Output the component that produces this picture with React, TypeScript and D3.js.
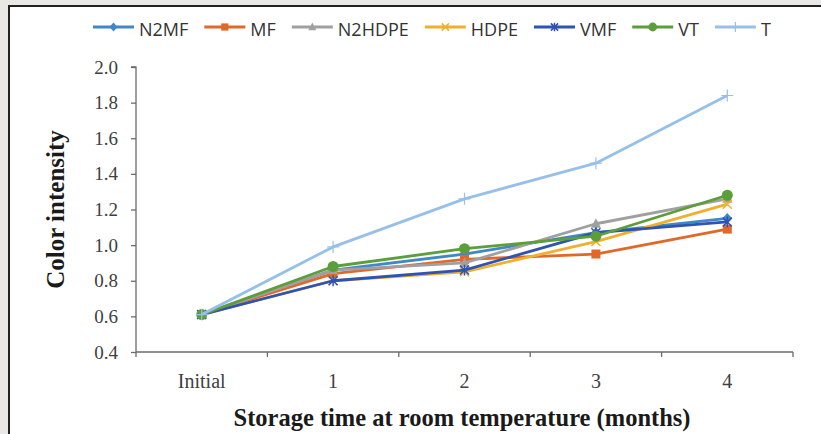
import React, { useEffect, useRef } from "react";
import * as d3 from "d3";

const categories = ["Initial", "1", "2", "3", "4"];
const seriesNames = ["N2MF", "MF", "N2HDPE", "HDPE", "VMF", "VT", "T"];
const n2mf = [0.61, 0.86, 0.95, 1.07, 1.15];
const mf = [0.61, 0.84, 0.92, 0.95, 1.09];
const n2hdpe = [0.61, 0.86, 0.9, 1.12, 1.26];
const hdpe = [0.61, 0.8, 0.85, 1.02, 1.23];
const vmf = [0.61, 0.8, 0.86, 1.07, 1.13];
const vt = [0.61, 0.88, 0.98, 1.05, 1.28];
const t = [0.61, 0.99, 1.26, 1.46, 1.84];
const yTicks = [0.4, 0.6, 0.8, 1.0, 1.2, 1.4, 1.6, 1.8, 2.0];

const seriesValues = [n2mf, mf, n2hdpe, hdpe, vmf, vt, t];
const colors = ["#3f87c9", "#e0692a", "#a0a0a0", "#f0b02e", "#2f53b3", "#5c9e3a", "#96c0ea"];
const markers = ["diamond", "square", "triangle", "x", "asterisk", "circle", "plus"];

const W = 821;
const H = 434;

function drawMarker(g: any, type: string, cx: number, cy: number, color: string, s: number) {
  if (type === "diamond") {
    g.append("path").attr("d", `M${cx},${cy - s * 0.55}L${cx + s * 0.5},${cy}L${cx},${cy + s * 0.55}L${cx - s * 0.5},${cy}Z`).attr("fill", color);
  } else if (type === "square") {
    g.append("rect").attr("x", cx - s * 0.45).attr("y", cy - s * 0.45).attr("width", s * 0.9).attr("height", s * 0.9).attr("fill", color);
  } else if (type === "triangle") {
    g.append("path").attr("d", `M${cx},${cy - s * 0.55}L${cx + s * 0.5},${cy + s * 0.4}L${cx - s * 0.5},${cy + s * 0.4}Z`).attr("fill", color);
  } else if (type === "circle") {
    g.append("circle").attr("cx", cx).attr("cy", cy).attr("r", s * 0.55).attr("fill", color);
  } else if (type === "x") {
    const r = s * 0.45;
    g.append("path").attr("d", `M${cx - r},${cy - r}L${cx + r},${cy + r}M${cx - r},${cy + r}L${cx + r},${cy - r}`).attr("stroke", color).attr("stroke-width", 1.5).attr("fill", "none");
  } else if (type === "asterisk") {
    const r = s * 0.45;
    g.append("path").attr("d", `M${cx - r},${cy - r}L${cx + r},${cy + r}M${cx - r},${cy + r}L${cx + r},${cy - r}M${cx},${cy - r * 1.2}L${cx},${cy + r * 1.2}`).attr("stroke", color).attr("stroke-width", 1.5).attr("fill", "none");
  } else if (type === "plus") {
    const r = s * 0.5;
    g.append("path").attr("d", `M${cx - r},${cy}L${cx + r},${cy}M${cx},${cy - r}L${cx},${cy + r}`).attr("stroke", color).attr("stroke-width", 1.2).attr("fill", "none");
  }
}

export default function App() {
  const ref = useRef<SVGSVGElement>(null);

  useEffect(() => {
    const svg = d3.select(ref.current);
    svg.selectAll("*").remove();

    // background frame
    svg.append("rect").attr("x", 0).attr("y", 0).attr("width", W).attr("height", H).attr("fill", "#e9e8e4");
    svg.append("rect").attr("x", 8).attr("y", 5).attr("width", W).attr("height", H).attr("fill", "#222");
    svg.append("rect").attr("x", 10).attr("y", 7).attr("width", W).attr("height", H).attr("fill", "#ffffff");

    const left = 136, right = 793, top = 67, bottom = 352;
    const x = d3.scaleBand<string>().domain(categories).range([left, right]).paddingInner(0).paddingOuter(0);
    const y = d3.scaleLinear().domain([0.4, 2.0]).range([bottom, top]);
    const cx = (c: string) => (x(c) as number) + x.bandwidth() / 2;

    const axisColor = "#6b6b6b";
    const tickFont = "'Liberation Serif', 'Times New Roman', serif";

    // Y axis
    const yAxis = d3.axisLeft(y).tickValues(yTicks).tickSize(5).tickFormat(d3.format(".1f") as any);
    const gy = svg.append("g").attr("transform", `translate(${left},0)`).call(yAxis as any);
    gy.attr("font-size", null).attr("font-family", null);
    gy.select(".domain").attr("stroke", axisColor).attr("stroke-width", 1.3).attr("d", `M-5,${top}H0V${bottom}`);
    gy.selectAll(".tick line").attr("stroke", axisColor).attr("stroke-width", 1.3);
    gy.selectAll(".tick text").attr("font-family", tickFont).attr("font-size", 19).attr("fill", "#404040").attr("x", -18);

    // X axis
    const boundaries = [...categories.map((c) => x(c) as number), right];
    const gx = svg.append("g");
    gx.append("line").attr("x1", left).attr("x2", right).attr("y1", bottom).attr("y2", bottom).attr("stroke", axisColor).attr("stroke-width", 1.3);
    gx.selectAll("line.tk").data(boundaries).enter().append("line").attr("class", "tk")
      .attr("x1", (d) => d).attr("x2", (d) => d).attr("y1", bottom).attr("y2", bottom + 5)
      .attr("stroke", axisColor).attr("stroke-width", 1.3);
    gx.selectAll("text").data(categories).enter().append("text")
      .attr("x", (d) => cx(d)).attr("y", 388).attr("text-anchor", "middle")
      .attr("font-family", tickFont).attr("font-size", 20).attr("fill", "#404040").text((d) => d);

    // Axis titles
    svg.append("text").attr("x", 462).attr("y", 426).attr("text-anchor", "middle")
      .attr("font-family", tickFont).attr("font-weight", "bold").attr("font-size", 24.5).attr("fill", "#1a1a1a")
      .text("Storage time at room temperature (months)");
    svg.append("text").attr("transform", `translate(64,${(top + bottom) / 2}) rotate(-90)`).attr("text-anchor", "middle")
      .attr("font-family", tickFont).attr("font-weight", "bold").attr("font-size", 25).attr("fill", "#1a1a1a")
      .text("Color intensity");

    // Series
    const line = d3.line<number>().x((_, i) => cx(categories[i])).y((d) => y(d));
    seriesValues.forEach((vals, si) => {
      const g = svg.append("g");
      g.append("path").attr("d", line(vals) as string).attr("fill", "none").attr("stroke", colors[si]).attr("stroke-width", 2.8).attr("stroke-linejoin", "round");
      vals.forEach((v, i) => {
        const size = markers[si] === "plus" ? 12 : 10;
        drawMarker(g, markers[si], cx(categories[i]), y(v), colors[si], size);
      });
    });

    // Legend
    const lg = svg.append("g");
    let lx = 93;
    const ly = 27;
    seriesNames.forEach((name, si) => {
      lg.append("line").attr("x1", lx).attr("x2", lx + 41).attr("y1", ly).attr("y2", ly).attr("stroke", colors[si]).attr("stroke-width", 2.8);
      drawMarker(lg, markers[si], lx + 20.5, ly, colors[si], markers[si] === "plus" ? 10 : 8);
      const tx = lg.append("text").attr("x", lx + 46).attr("y", ly + 9).attr("font-family", "'Open Sans', 'Noto Sans', sans-serif")
        .attr("font-size", 18).attr("fill", "#333").text(name);
      const w = (tx.node() as SVGTextElement).getComputedTextLength();
      lx = lx + 46 + w + 16;
    });
  }, []);

  return (
    <svg ref={ref} width={W} height={H} style={{ display: "block", position: "absolute", left: 0, top: 0 }} />
  );
}
